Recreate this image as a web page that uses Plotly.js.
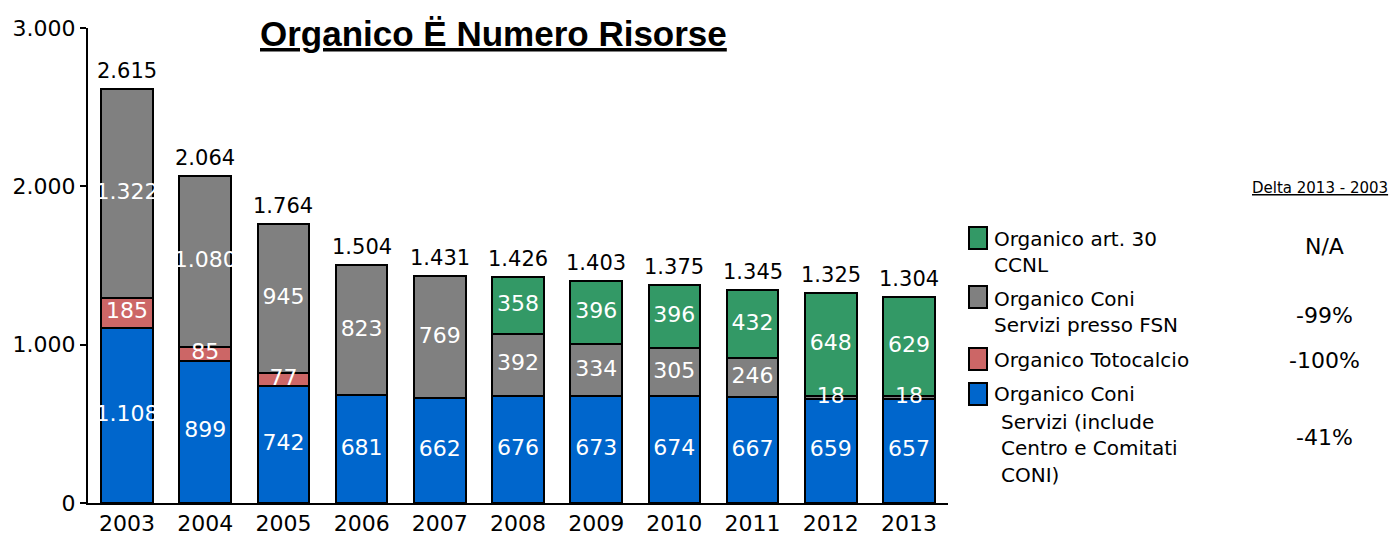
<!DOCTYPE html>
<html>
<head>
<meta charset="utf-8">
<script src="https://cdn.plot.ly/plotly-3.0.1.min.js"></script>
<style>
  html, body { margin: 0; padding: 0; background: #ffffff; }
  #grafico { width: 1393px; height: 537px; }
</style>
</head>
<body>
<div id="grafico"></div>
<script>
// Dati: organico per anno
const anni = ['2003', '2004', '2005', '2006', '2007', '2008', '2009', '2010', '2011', '2012', '2013'];
const coniServizi = [1108, 899, 742, 681, 662, 676, 673, 674, 667, 659, 657];
const totocalcio = [185, 85, 77, null, null, null, null, null, null, null, null];
const coniFsn = [1322, 1080, 945, 823, 769, 392, 334, 305, 246, 18, 18];
const art30 = [null, null, null, null, null, 358, 396, 396, 432, 648, 629];

// Legenda (dall'alto verso il basso) e colonna delta
const nomiLegenda = [
    ['Organico art. 30', 'CCNL'],
    ['Organico Coni', 'Servizi presso FSN'],
    ['Organico Totocalcio'],
    ['Organico Coni', 'Servizi (include', 'Centro e Comitati', 'CONI)']
];
const delta = ['N/A', '-99%', '-100%', '-41%'];
const coloriLegenda = ['#339966', '#808080', '#cc6666', '#0066cc'];

const serieStack = [coniServizi, totocalcio, coniFsn, art30];

// totali sopra le colonne
const totali = anni.map((a, i) => serieStack.reduce((s, arr) => s + (arr[i] || 0), 0));

// area del grafico in pixel
const L = 88, R = 948, T = 28, B = 503;
const px = x => (x - L) / (R - L);
const py = y => (B - y) / (B - T);

const fontBase = 'DejaVu Sans, Verdana, sans-serif';

function serie(nome, valori, colore) {
    return {
        x: anni,
        y: valori,
        name: nome,
        type: 'bar',
        marker: { color: colore, line: { color: '#000000', width: 2 } },
        textposition: 'none',
        hoverinfo: 'skip'
    };
}

const data = [
    serie('Organico Coni Servizi', coniServizi, '#0066cc'),
    serie('Organico Totocalcio', totocalcio, '#cc6666'),
    serie('Organico Coni Servizi presso FSN', coniFsn, '#808080'),
    serie('Organico art. 30 CCNL', art30, '#339966')
];

// etichette bianche al centro di ogni segmento (sopra a tutte le barre)
const labX = [], labY = [], labT = [];
anni.forEach((a, i) => {
    let base = 0;
    serieStack.forEach(arr => {
        const v = arr[i];
        if (v != null) {
            labX.push(a);
            labY.push(base + v / 2);
            labT.push(v.toLocaleString('it-IT'));
            base += v;
        }
    });
});
data.push({
    x: labX, y: labY, text: labT,
    type: 'scatter', mode: 'text',
    textposition: 'middle center',
    textfont: { family: fontBase, size: 22, color: '#ffffff' },
    hoverinfo: 'skip', cliponaxis: false
});

const annotations = [];

// totali (x = indice della categoria)
anni.forEach((a, i) => {
    annotations.push({
        x: i, y: totali[i], xref: 'x', yref: 'y',
        text: totali[i].toLocaleString('it-IT'),
        showarrow: false, yanchor: 'bottom', yshift: 4,
        font: { family: fontBase, size: 21, color: '#000000' }
    });
});

// titolo
annotations.push({
    xref: 'paper', yref: 'paper', x: px(493), y: py(33),
    xanchor: 'center', yanchor: 'middle', showarrow: false,
    text: '<b>Organico Ë Numero Risorse</b>',
    font: { family: 'Liberation Sans, Arial, sans-serif', size: 35, color: '#000000', lineposition: 'under' }
});

// intestazione delta
annotations.push({
    xref: 'paper', yref: 'paper', x: px(1320), y: py(188),
    xanchor: 'center', yanchor: 'middle', showarrow: false,
    text: 'Delta 2013 - 2003',
    font: { family: fontBase, size: 15, color: '#000000', lineposition: 'under' }
});

// legenda personalizzata
const boxTop = [227, 286, 348, 383];
const righe = [[239, 265], [299, 325], [360], [394, 422, 448, 475]];
const rientro = [[992, 992], [992, 992], [992], [992, 999, 999, 999]];
const deltaY = [246, 316, 360, 437];
const shapes = [];

nomiLegenda.forEach((linee, k) => {
    shapes.push({
        type: 'rect', xref: 'paper', yref: 'paper',
        x0: px(969), x1: px(987), y0: py(boxTop[k]), y1: py(boxTop[k] + 22),
        fillcolor: coloriLegenda[k], line: { color: '#000000', width: 2 }
    });
    linee.forEach((t, j) => {
        annotations.push({
            xref: 'paper', yref: 'paper', x: px(rientro[k][j]), y: py(righe[k][j]),
            xanchor: 'left', yanchor: 'middle', showarrow: false, text: t,
            font: { family: fontBase, size: 20, color: '#000000' }
        });
    });
    annotations.push({
        xref: 'paper', yref: 'paper', x: px(1324), y: py(deltaY[k]),
        xanchor: 'center', yanchor: 'middle', showarrow: false, text: delta[k],
        font: { family: fontBase, size: 22, color: '#000000' }
    });
});

const layout = {
    width: 1393,
    height: 537,
    margin: { l: L, r: 1393 - R, t: T, b: 537 - B, pad: 0 },
    barmode: 'stack',
    bargap: 0.34,
    separators: ',.',
    showlegend: false,
    paper_bgcolor: '#ffffff',
    plot_bgcolor: '#ffffff',
    font: { family: fontBase, color: '#000000' },
    xaxis: {
        type: 'category',
        range: [-0.5, anni.length - 0.5],
        showline: true, linecolor: '#000000', linewidth: 2,
        ticks: '', showgrid: false,
        tickfont: { family: fontBase, size: 22, color: '#000000' }
    },
    yaxis: {
        range: [0, 3000],
        tickvals: [0, 1000, 2000, 3000],
        tickformat: ',',
        showline: true, linecolor: '#000000', linewidth: 2,
        ticks: 'outside', ticklen: 6, tickwidth: 2, tickcolor: '#000000',
        showgrid: false, zeroline: false,
        tickfont: { family: fontBase, size: 22, color: '#000000' }
    },
    annotations: annotations,
    shapes: shapes
};

Plotly.newPlot('grafico', data, layout, { displayModeBar: false, staticPlot: true });
</script>
</body>
</html>
